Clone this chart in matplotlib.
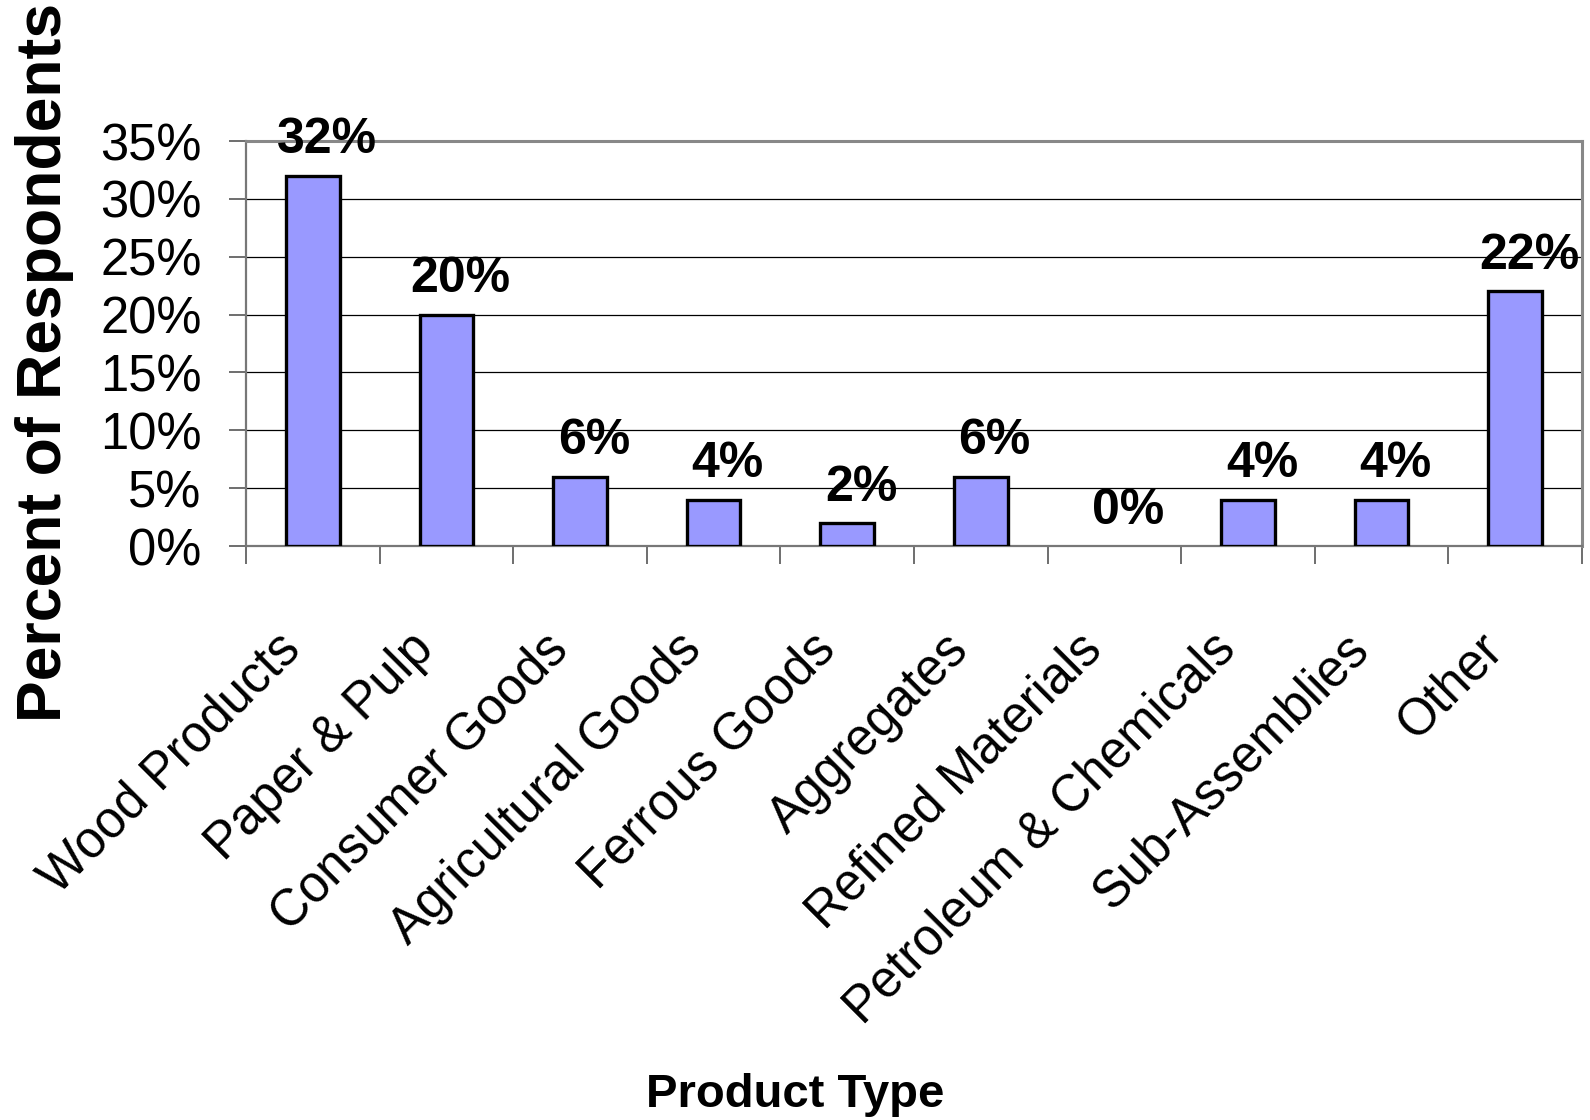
import matplotlib
matplotlib.use("Agg")
from matplotlib import pyplot as plt
from matplotlib import transforms
from matplotlib.ticker import FixedLocator, PercentFormatter

categories = ["Wood Products", "Paper & Pulp", "Consumer Goods", "Agricultural Goods",
              "Ferrous Goods", "Aggregates", "Refined Materials", "Petroleum & Chemicals",
              "Sub-Assemblies", "Other"]
percents = [32, 20, 6, 4, 2, 6, 0, 4, 4, 22]
y_ticks = [0, 5, 10, 15, 20, 25, 30, 35]

plt.rcParams['font.family'] = ['Liberation Sans', 'DejaVu Sans']

fig = plt.figure(figsize=(15.9, 11.2), dpi=100)
ax = fig.add_axes([246 / 1590, 1 - 546 / 1120, (1582 - 246) / 1590, (546 - 141) / 1120])

x = list(range(len(categories)))
# no outline for empty bars (Excel draws nothing there)
edge_w = [2.4 if v > 0 else 0 for v in percents]
ax.bar(x, percents, width=0.4, color="#9999FF", edgecolor="black", linewidth=edge_w, zorder=3)

for xi, v in zip(x, percents):
    ax.annotate(f"{v}%", (xi, v), xytext=(10, 16), textcoords="offset points",
                ha="center", va="baseline", fontsize=36, fontweight="bold")

ax.set_xlim(-0.5, len(categories) - 0.5)
ax.set_ylim(0, 35)
ax.yaxis.set_major_locator(FixedLocator(y_ticks))
ax.yaxis.set_major_formatter(PercentFormatter(decimals=0))
ax.grid(axis="y", color="black", linewidth=0.9, zorder=0)

# category boundaries as ticks, labels in the middle
ax.set_xticks([i - 0.5 for i in range(len(categories) + 1)])
ax.set_xticklabels([])
ax.set_xticks(x, minor=True)
ax.set_xticklabels(categories, minor=True, rotation=45, ha="right", va="center",
                   rotation_mode="anchor", fontsize=36.5)
ax.tick_params(axis="x", which="major", length=13, width=1.2, color="#555555", direction="out")
ax.tick_params(axis="x", which="minor", length=0, pad=69)
ax.tick_params(axis="y", length=12, width=1.2, color="#555555", pad=20, labelsize=36.5)

shift = transforms.ScaledTranslation(-0.20, 0, fig.dpi_scale_trans)
for lbl in ax.get_xticklabels(minor=True):
    lbl.set_transform(lbl.get_transform() + shift)

for side in ["top", "right"]:
    ax.spines[side].set_color("#888888")
    ax.spines[side].set_linewidth(2.2)
for side in ["left", "bottom"]:
    ax.spines[side].set_color("#777777")
    ax.spines[side].set_linewidth(1.6)

fig.text(0.5, 0.003, "Product Type", ha="center", va="bottom", fontsize=34, fontweight="bold")
fig.text(0.028, 1 - 362 / 1120, "Percent of Respondents", rotation=90, ha="center",
         va="center", fontsize=45, fontweight="bold")

fig.savefig("out.png", dpi=100)
